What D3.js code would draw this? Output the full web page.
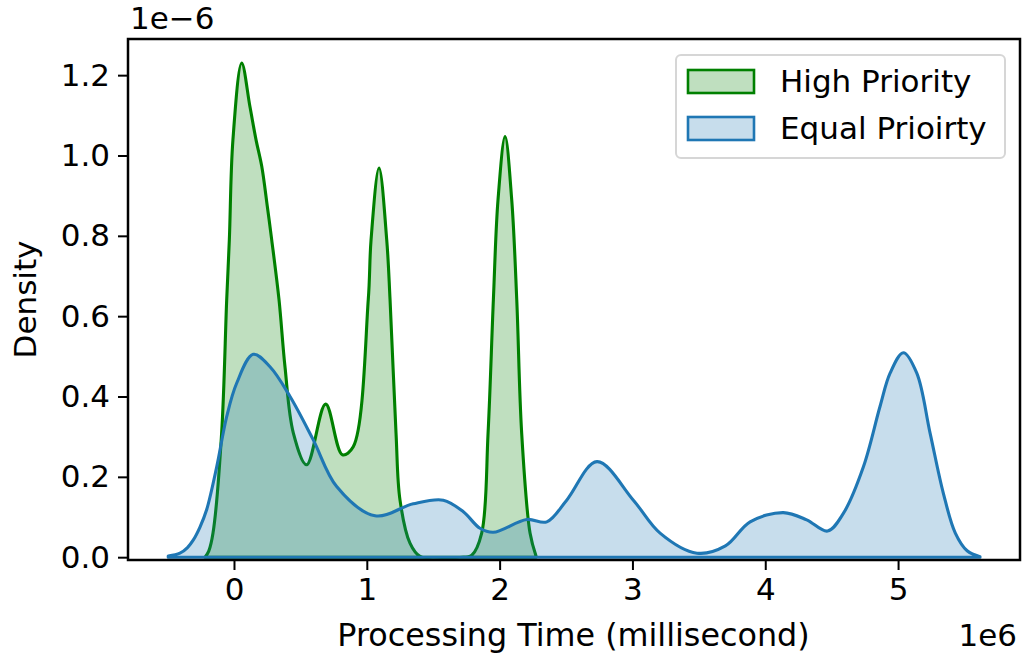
<!DOCTYPE html>
<html>
<head>
<meta charset="utf-8">
<script src="https://cdn.jsdelivr.net/npm/d3@7"></script>
<style>
  body { margin: 0; background: #fff; }
  svg { display: block; font-family: 'DejaVu Sans', sans-serif; }
  .tick text { font-size: 31px; fill: #000; }
</style>
</head>
<body>
<div id="chart"></div>
<script>
'use strict';

// KDE curves; x in units of 1e6 ms, density in units of 1e-6.
var seriesNames = ['High Priority', 'Equal Prioirty'];

var highX = [-0.218, -0.19, -0.158, -0.093, -0.055, -0.035, -0.008, 0.058, 0.120, 0.166, 0.209, 0.251,
  0.284, 0.339, 0.384, 0.447, 0.547, 0.690, 0.816, 0.898, 1.011, 1.032, 1.092, 1.150, 1.175,
  1.220, 1.250, 1.325, 1.401, 1.50, 1.70, 1.790, 1.865, 1.913, 1.953, 1.988, 2.041, 2.091,
  2.129, 2.166, 2.229, 2.274];
var highY = [0, 0.015, 0.060, 0.309, 0.640, 0.790, 1.039, 1.230, 1.122, 1.039, 0.973, 0.873,
  0.790, 0.641, 0.474, 0.309, 0.230, 0.381, 0.255, 0.275, 0.641, 0.790, 0.969, 0.790, 0.641,
  0.309, 0.142, 0.035, 0.002, 0, 0, 0.005, 0.060, 0.309, 0.641, 0.890, 1.047, 0.890,
  0.641, 0.309, 0.060, 0.003];

var equalX = [-0.495, -0.407, -0.350, -0.306, -0.256, -0.206, -0.130, -0.055, 0.020, 0.145, 0.271,
  0.422, 0.597, 0.773, 1.062, 1.350, 1.576, 1.727, 1.852, 1.952, 2.204, 2.355, 2.505, 2.733,
  3.007, 3.208, 3.486, 3.700, 3.886, 4.136, 4.312, 4.469, 4.588, 4.739, 4.864, 4.940, 5.040,
  5.141, 5.241, 5.341, 5.431, 5.520, 5.617];
var equalY = [0.003, 0.010, 0.024, 0.043, 0.075, 0.118, 0.225, 0.350, 0.433, 0.505, 0.474,
  0.400, 0.292, 0.176, 0.103, 0.133, 0.142, 0.113, 0.072, 0.062, 0.094, 0.088, 0.142, 0.238,
  0.142, 0.060, 0.010, 0.028, 0.088, 0.111, 0.093, 0.065, 0.109, 0.225, 0.375, 0.458, 0.509,
  0.458, 0.309, 0.159, 0.060, 0.016, 0.001];

var xTicks = [0, 1, 2, 3, 4, 5];
var yTicks = [0, 0.2, 0.4, 0.6, 0.8, 1.0, 1.2];

var lineColors = ['#008000', '#1f77b4'];

var width = 1024;
var height = 660;
var margin = { top: 39, right: 4, bottom: 100, left: 128 };
var w = width - margin.left - margin.right;
var h = height - margin.top - margin.bottom;

var svg = d3.select('#chart').append('svg')
  .attr('width', width)
  .attr('height', height);

var g = svg.append('g')
  .attr('transform', 'translate(' + margin.left + ',' + margin.top + ')');

var x = d3.scaleLinear().domain([-0.798, 5.918]).range([0, w]);
var y = d3.scaleLinear().domain([-0.007, 1.29]).range([h, 0]);

var series = [
  { name: seriesNames[0], xs: highX, ys: highY, color: lineColors[0] },
  { name: seriesNames[1], xs: equalX, ys: equalY, color: lineColors[1] }
];

var area = d3.area()
  .x(function(d) { return x(d[0]); })
  .y0(y(0))
  .y1(function(d) { return y(Math.max(0, d[1])); })
  .curve(d3.curveCatmullRom.alpha(0.5));

var plot = g.append('g');

series.forEach(function(s) {
  var pts = d3.zip(s.xs, s.ys);
  plot.append('path')
    .datum(pts)
    .attr('d', function(d) { return area(d) + 'Z'; })
    .attr('fill', s.color)
    .attr('fill-opacity', 0.25)
    .attr('stroke', s.color)
    .attr('stroke-width', 3.1)
    .attr('stroke-linejoin', 'round');
});

// Axes
var xAxis = g.append('g')
  .attr('transform', 'translate(0,' + h + ')')
  .call(d3.axisBottom(x).tickValues(xTicks).tickFormat(d3.format('d')).tickSize(10).tickPadding(8));

var yAxis = g.append('g')
  .call(d3.axisLeft(y).tickValues(yTicks).tickFormat(d3.format('.1f')).tickSize(10).tickPadding(8));

[xAxis, yAxis].forEach(function(a) {
  a.select('.domain').remove();
  a.selectAll('.tick line').attr('stroke', '#000').attr('stroke-width', 2);
  a.selectAll('.tick text').attr('font-family', 'DejaVu Sans');
});
xAxis.selectAll('.tick text').attr('dy', '0.72em');

g.append('rect')
  .attr('width', w)
  .attr('height', h)
  .attr('fill', 'none')
  .attr('stroke', '#000')
  .attr('stroke-width', 2.5);

// Labels
svg.append('text')
  .attr('x', 573.5)
  .attr('y', 646)
  .attr('text-anchor', 'middle')
  .attr('font-size', 31.8)
  .text('Processing Time (millisecond)');

svg.append('text')
  .attr('transform', 'translate(36,' + (margin.top + h / 2) + ') rotate(-90)')
  .attr('text-anchor', 'middle')
  .attr('font-size', 31)
  .text('Density');

svg.append('text')
  .attr('x', 130)
  .attr('y', 29)
  .attr('font-size', 31)
  .text('1e\u22126');

svg.append('text')
  .attr('x', 1017)
  .attr('y', 646)
  .attr('text-anchor', 'end')
  .attr('font-size', 31)
  .text('1e6');

// Legend
var legend = svg.append('g')
  .attr('transform', 'translate(676,55)');

legend.append('rect')
  .attr('width', 329)
  .attr('height', 103)
  .attr('rx', 5)
  .attr('fill', '#fff')
  .attr('fill-opacity', 0.8)
  .attr('stroke', '#d6d6d6')
  .attr('stroke-width', 2);

series.forEach(function(s, i) {
  var row = legend.append('g')
    .attr('transform', 'translate(12,' + (15 + i * 47) + ')');
  row.append('rect')
    .attr('width', 66)
    .attr('height', 23)
    .attr('fill', s.color)
    .attr('fill-opacity', 0.25)
    .attr('stroke', s.color)
    .attr('stroke-width', 2.6);
  row.append('text')
    .attr('x', 92)
    .attr('y', 22)
    .attr('font-size', 31)
    .text(s.name);
});
</script>
</body>
</html>
